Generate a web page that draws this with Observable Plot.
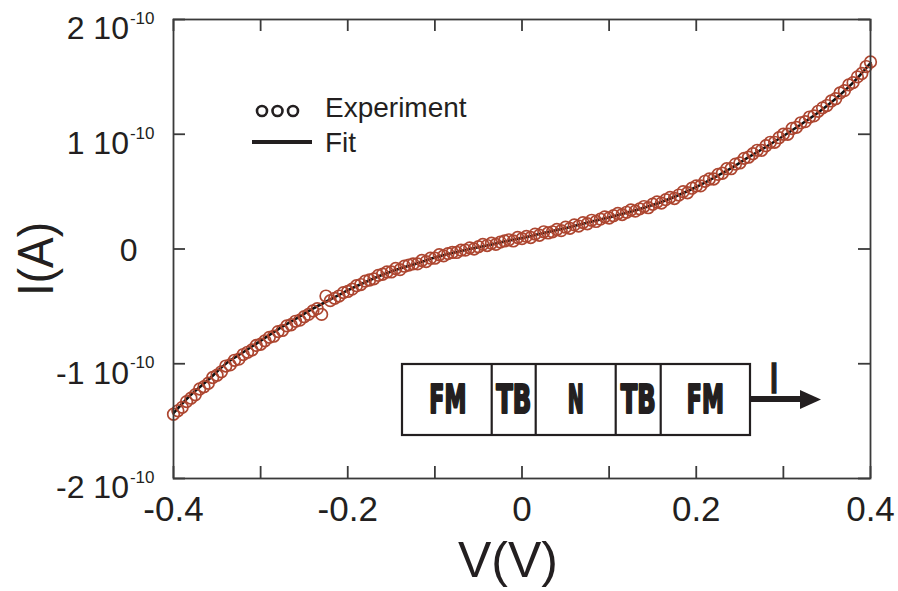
<!DOCTYPE html>
<html><head><meta charset="utf-8">
<script src="https://cdn.jsdelivr.net/npm/d3@7"></script>
<script src="https://cdn.jsdelivr.net/npm/@observablehq/plot@0.6"></script>
<style>html,body{margin:0;padding:0;background:#fff}svg{display:block}</style>
</head><body><div id="chart"></div>
<script>
// Current values in units of 1e-10 A, voltage in V
const fitV = [-0.40,-0.38,-0.36,-0.34,-0.32,-0.30,-0.28,-0.26,-0.24,-0.22,
  -0.20,-0.18,-0.16,-0.14,-0.12,-0.10,-0.08,-0.06,-0.04,-0.02,
  0.00,0.02,0.04,0.06,0.08,0.10,0.12,0.14,0.16,0.18,
  0.20,0.22,0.24,0.26,0.28,0.30,0.32,0.34,0.36,0.38,0.40];
const fitI = [-1.43,-1.27,-1.14,-1.00,-0.90,-0.80,-0.70,-0.61,-0.52,-0.44,
  -0.36,-0.29,-0.225,-0.17,-0.125,-0.075,-0.035,0.00,0.03,0.065,
  0.095,0.13,0.165,0.20,0.24,0.275,0.315,0.36,0.41,0.47,
  0.54,0.62,0.705,0.80,0.89,0.985,1.085,1.19,1.31,1.45,1.62];
const expV = [-0.400,-0.395,-0.390,-0.385,-0.380,-0.375,-0.370,-0.365,-0.360,-0.355,
  -0.350,-0.345,-0.340,-0.335,-0.330,-0.325,-0.320,-0.315,-0.310,-0.305,
  -0.300,-0.295,-0.290,-0.285,-0.280,-0.275,-0.270,-0.265,-0.260,-0.255,
  -0.250,-0.245,-0.240,-0.235,-0.230,-0.225,-0.220,-0.215,-0.210,-0.205,
  -0.200,-0.195,-0.190,-0.185,-0.180,-0.175,-0.170,-0.165,-0.160,-0.155,
  -0.150,-0.145,-0.140,-0.135,-0.130,-0.125,-0.120,-0.115,-0.110,-0.105,
  -0.100,-0.095,-0.090,-0.085,-0.080,-0.075,-0.070,-0.065,-0.060,-0.055,
  -0.050,-0.045,-0.040,-0.035,-0.030,-0.025,-0.020,-0.015,-0.010,-0.005,
  0.000,0.005,0.010,0.015,0.020,0.025,0.030,0.035,0.040,0.045,
  0.050,0.055,0.060,0.065,0.070,0.075,0.080,0.085,0.090,0.095,
  0.100,0.105,0.110,0.115,0.120,0.125,0.130,0.135,0.140,0.145,
  0.150,0.155,0.160,0.165,0.170,0.175,0.180,0.185,0.190,0.195,
  0.200,0.205,0.210,0.215,0.220,0.225,0.230,0.235,0.240,0.245,
  0.250,0.255,0.260,0.265,0.270,0.275,0.280,0.285,0.290,0.295,
  0.300,0.305,0.310,0.315,0.320,0.325,0.330,0.335,0.340,0.345,
  0.350,0.355,0.360,0.365,0.370,0.375,0.380,0.385,0.390,0.395,0.400];
const expI = [-1.44,-1.41,-1.38,-1.33,-1.30,-1.27,-1.22,-1.20,-1.17,-1.12,
  -1.10,-1.07,-1.02,-1.01,-0.97,-0.96,-0.92,-0.90,-0.88,-0.84,
  -0.83,-0.80,-0.77,-0.76,-0.72,-0.71,-0.67,-0.66,-0.63,-0.62,
  -0.59,-0.57,-0.54,-0.52,-0.57,-0.41,-0.45,-0.43,-0.41,-0.38,
  -0.37,-0.35,-0.32,-0.31,-0.28,-0.27,-0.26,-0.23,-0.22,-0.20,
  -0.20,-0.17,-0.18,-0.15,-0.14,-0.13,-0.13,-0.10,-0.11,-0.08,
  -0.08,-0.05,-0.06,-0.04,-0.03,-0.03,-0.01,-0.01,0.01,0.00,
  0.02,0.04,0.03,0.05,0.04,0.06,0.07,0.08,0.07,0.10,
  0.09,0.11,0.10,0.13,0.12,0.15,0.14,0.15,0.17,0.16,
  0.19,0.18,0.21,0.20,0.23,0.22,0.25,0.24,0.26,0.28,
  0.27,0.29,0.31,0.30,0.32,0.34,0.33,0.35,0.37,0.36,
  0.39,0.41,0.40,0.43,0.45,0.44,0.47,0.50,0.49,0.53,
  0.55,0.55,0.59,0.61,0.61,0.65,0.66,0.70,0.70,0.74,
  0.75,0.79,0.80,0.83,0.86,0.86,0.90,0.93,0.93,0.97,
  1.00,1.00,1.05,1.06,1.10,1.11,1.15,1.16,1.20,1.23,
  1.25,1.29,1.31,1.36,1.38,1.43,1.45,1.50,1.53,1.59,1.63];
const xTicks = [-0.4,-0.3,-0.2,-0.1,0,0.1,0.2,0.3,0.4];
const xLabelTicks = [-0.4,-0.2,0,0.2,0.4];
const xLabels = ["-0.4","-0.2","0","0.2","0.4"];
const yTicks = [-2,-1,0,1,2];
const yLabelMain = ["-2 10","-1 10","0","1 10","2 10"];
const yLabelExp = ["-10","-10","","-10","-10"];
const legendLabels = ["Experiment","Fit"];
const layers = ["FM","TB","N","TB","FM"];

const W = 898, H = 591, mL = 173, mR = 28, mT = 19, mB = 113;
const iw = W - mL - mR, ih = H - mT - mB;
const ink = "#231f20", axisCol = "#3a3a3a", rust = "#ad4630";
const font = "'Liberation Sans', Arial, Helvetica, sans-serif";

const fit = fitV.map((v, k) => ({v, i: fitI[k]}));
const exp = expV.map((v, k) => ({v, i: expI[k]}));
const tl = 12;

const plot = Plot.plot({
  width: W, height: H,
  marginLeft: mL, marginRight: mR, marginTop: mT, marginBottom: mB,
  x: {domain: [-0.4, 0.4], label: null},
  y: {domain: [-2, 2], label: null},
  style: {fontFamily: font, color: ink, background: "white", overflow: "visible"},
  marks: [
    Plot.line(fit, {x: "v", y: "i", stroke: "#111", strokeWidth: 2.6, curve: "monotone-x"}),
    Plot.dot(exp, {x: "v", y: "i", r: 5.8, stroke: rust, strokeWidth: 1.7, fill: "none"}),
    Plot.frame({stroke: axisCol, strokeWidth: 1.8}),
    Plot.tickX(xTicks, {x: d => d, insetTop: ih - tl, stroke: axisCol, strokeWidth: 1.8}),
    Plot.tickX(xTicks, {x: d => d, insetBottom: ih - tl, stroke: axisCol, strokeWidth: 1.8}),
    Plot.tickY(yTicks, {y: d => d, insetRight: iw - tl, stroke: axisCol, strokeWidth: 1.8}),
    Plot.tickY(yTicks, {y: d => d, insetLeft: iw - tl, stroke: axisCol, strokeWidth: 1.8}),
    Plot.axisX(xLabelTicks, {tickSize: 0, tickPadding: 18, fontSize: 35, fill: ink,
      tickFormat: d => xLabels[xLabelTicks.indexOf(d)], label: null}),
    Plot.axisY(yTicks, {tickSize: 0, tickPadding: 19, fontSize: 32, fill: ink,
      tickFormat: d => yLabelMain[yTicks.indexOf(d)], label: null})
  ]
});
document.getElementById("chart").appendChild(plot);

const svg = d3.select(plot);
// superscript exponents on y tick labels
svg.selectAll('g[aria-label="y-axis tick label"] text').each(function() {
  const t = d3.select(this);
  const k = yLabelMain.indexOf(this.textContent);
  if (k < 0) return;
  if (yLabelExp[k]) {
    t.attr("dy", "0.3em");
    t.append("tspan").attr("font-size", 17).attr("dy", -15.5).attr("dx", 1).text(yLabelExp[k]);
  } else {
    t.attr("dy", "0.06em").attr("dx", -17);
  }
});

// axis titles
svg.append("text").attr("x", 508).attr("y", 577).attr("text-anchor", "middle")
  .attr("font-size", 50).attr("fill", ink).attr("font-family", font).text("V(V)");
svg.append("text").attr("transform", "translate(53,259) rotate(-90)").attr("text-anchor", "middle")
  .attr("font-size", 50).attr("fill", ink).attr("font-family", font)
  .attr("textLength", 74).attr("lengthAdjust", "spacingAndGlyphs").text("I(A)");

// legend
const lg = svg.append("g").attr("font-family", font).attr("fill", ink).attr("text-anchor", "start");
[262, 277.5, 293].forEach(cx => lg.append("circle").attr("cx", cx).attr("cy", 111).attr("r", 5)
  .attr("fill", "none").attr("stroke", ink).attr("stroke-width", 2.6));
lg.append("line").attr("x1", 252).attr("x2", 312).attr("y1", 142).attr("y2", 142)
  .attr("stroke", ink).attr("stroke-width", 4);
lg.append("text").attr("x", 325).attr("y", 117).attr("font-size", 28).text(legendLabels[0]);
lg.append("text").attr("x", 325).attr("y", 152).attr("font-size", 28).text(legendLabels[1]);

// inset layer diagram
const ig = svg.append("g").attr("text-anchor", "start");
const edges = [402, 491.7, 535.7, 615.7, 660.7, 750];
const widths = [37, 35, 16, 35, 37];
ig.append("rect").attr("x", 402).attr("y", 364).attr("width", 348).attr("height", 71)
  .attr("fill", "white").attr("stroke", ink).attr("stroke-width", 2.2);
edges.slice(1, -1).forEach(x => ig.append("line").attr("x1", x).attr("x2", x).attr("y1", 364).attr("y2", 435)
  .attr("stroke", ink).attr("stroke-width", 2.2));
const bold = "'Liberation Sans Narrow', 'DejaVu Sans Condensed', 'Liberation Sans', sans-serif";
layers.forEach((name, k) => {
  const cx = (edges[k] + edges[k + 1]) / 2 + (k === 0 ? 1 : 0);
  ig.append("text").attr("x", cx - widths[k] / 2).attr("y", 413)
    .attr("font-family", bold).attr("font-weight", 900).attr("font-size", 39)
    .attr("fill", ink).attr("stroke", ink).attr("stroke-width", 2.2).attr("stroke-linejoin", "round")
    .attr("textLength", widths[k]).attr("lengthAdjust", "spacingAndGlyphs").text(name);
});
ig.append("line").attr("x1", 750).attr("x2", 803).attr("y1", 399).attr("y2", 399)
  .attr("stroke", ink).attr("stroke-width", 6);
ig.append("path").attr("d", "M800,390 L821,399.5 L800,409 Z").attr("fill", ink);
ig.append("text").attr("x", 770).attr("y", 393).attr("font-family", bold).attr("font-weight", 900)
  .attr("font-size", 40).attr("fill", ink).attr("stroke", ink).attr("stroke-width", 1.5)
  .attr("textLength", 8).attr("lengthAdjust", "spacingAndGlyphs").text("I");
</script></body></html>
